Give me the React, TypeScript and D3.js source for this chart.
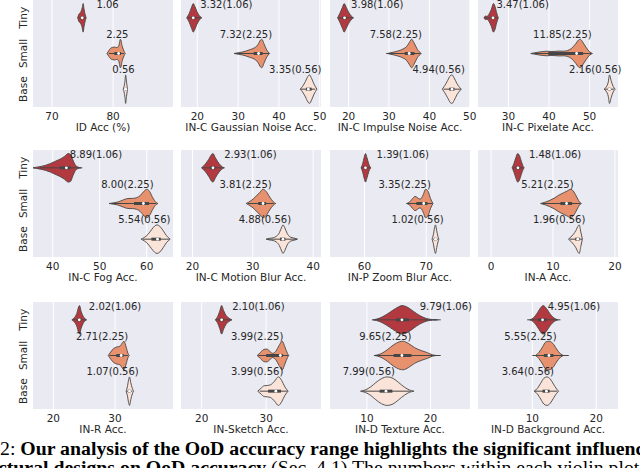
import React from "react";
import * as d3 from "d3";

// ---------------- data ----------------
const models = ["Tiny", "Small", "Base"];
const colors = ["#b2393f", "#e8916e", "#fae3d8"];

const metrics = [
  "ID Acc (%)",
  "IN-C Gaussian Noise Acc.",
  "IN-C Impulse Noise Acc.",
  "IN-C Pixelate Acc.",
  "IN-C Fog Acc.",
  "IN-C Motion Blur Acc.",
  "IN-P Zoom Blur Acc.",
  "IN-A Acc.",
  "IN-R Acc.",
  "IN-Sketch Acc.",
  "IN-D Texture Acc.",
  "IN-D Background Acc.",
];

const idRange = [1.06, 2.25, 0.56];
const oodRange: (number[] | null)[] = [
  null,
  [3.32, 7.32, 3.35],
  [3.98, 7.58, 4.94],
  [3.47, 11.85, 2.16],
  [8.89, 8.0, 5.54],
  [2.93, 3.81, 4.88],
  [1.39, 3.35, 1.02],
  [1.48, 5.21, 1.96],
  [2.02, 2.71, 1.07],
  [2.1, 3.99, 3.99],
  [9.79, 9.65, 7.99],
  [4.95, 5.55, 3.64],
];

const xTicks = [
  [70, 80],
  [20, 30, 40, 50],
  [20, 30, 40, 50],
  [30, 40, 50],
  [40, 50, 60],
  [20, 30, 40],
  [60, 70],
  [0, 10, 20],
  [20, 30],
  [20, 30],
  [10, 20],
  [10, 20],
];

const xLimits = [
  [66.9, 89.8],
  [16.0, 50.3],
  [15.4, 50.05],
  [22.5, 57.0],
  [35.8, 65.6],
  [18.1, 41.3],
  [54.4, 77.1],
  [-2.1, 20.5],
  [16.7, 39.4],
  [16.8, 38.5],
  [4.2, 26.2],
  [1.5, 23.4],
];

// label anchor (centre) in data units, per metric, per model
const labelX = [
  [79.1, 80.7, 81.7],
  [27.1, 31.9, 44.0],
  [27.1, 31.7, 42.3],
  [33.5, 43.3, 51.4],
  [49.2, 55.9, 59.5],
  [29.6, 28.8, 32.0],
  [66.2, 66.5, 68.6],
  [10.35, 9.1, 11.0],
  [30.0, 27.9, 29.6],
  [28.8, 28.6, 28.6],
  [22.4, 12.9, 10.3],
  [16.5, 9.7, 9.3],
];

// density profiles [value, relative density]
const densId = [
  [[74.2, 0], [74.4, 0.25], [74.7, 0.4], [74.95, 0.7], [75.1, 1], [75.25, 0.6], [75.45, 0.2], [75.6, 0]],
  [[79.0, 0], [79.3, 0.2], [79.7, 0.4], [80.2, 0.45], [80.6, 0.42], [80.9, 0.5], [81.2, 1], [81.5, 0.5], [81.8, 0.15], [82.0, 0]],
  [[81.65, 0], [81.8, 0.2], [81.95, 0.6], [82.05, 1], [82.2, 0.5], [82.35, 0]],
];
const densGauss = [
  [[17.4, 0], [18.0, 0.3], [18.6, 0.75], [19.0, 1], [19.4, 0.8], [19.9, 0.45], [20.5, 0.15], [21.1, 0]],
  [[29.0, 0], [30.0, 0.05], [31.0, 0.1], [32.0, 0.18], [33.0, 0.28], [34.0, 0.4], [34.8, 0.6], [35.5, 0.95], [35.8, 1], [36.3, 0.7], [37.0, 0.25], [37.7, 0]],
  [[45.2, 0], [45.8, 0.2], [46.5, 0.55], [47.1, 0.9], [47.5, 1], [48.0, 0.75], [48.6, 0.35], [49.3, 0]],
];
const densImpulse = [
  [[17.3, 0], [17.9, 0.35], [18.5, 0.75], [18.9, 1], [19.4, 0.75], [20.0, 0.4], [20.6, 0.15], [21.2, 0]],
  [[29.6, 0], [30.5, 0.06], [31.5, 0.12], [32.5, 0.2], [33.5, 0.32], [34.4, 0.5], [35.1, 0.8], [35.6, 1], [36.2, 0.75], [37.0, 0.3], [38.0, 0]],
  [[43.2, 0], [43.8, 0.25], [44.5, 0.6], [45.2, 0.95], [45.6, 1], [46.1, 0.8], [46.8, 0.4], [47.5, 0.12], [47.9, 0]],
];
const densPixelate = [
  [[24.0, 0], [24.3, 0.12], [24.7, 0.1], [25.2, 0.25], [25.8, 0.6], [26.3, 1], [26.7, 0.8], [27.1, 0.35], [27.5, 0]],
  [[35.5, 0], [36.5, 0.05], [37.5, 0.1], [38.5, 0.14], [39.5, 0.16], [40.5, 0.14], [41.5, 0.15], [42.5, 0.17], [43.5, 0.16], [44.5, 0.2], [45.5, 0.35], [46.5, 0.65], [47.3, 0.95], [47.7, 1], [48.3, 0.8], [49.2, 0.4], [50.0, 0.12], [50.7, 0]],
  [[53.6, 0], [54.1, 0.15], [54.6, 0.5], [54.9, 1], [55.3, 0.6], [55.8, 0.2], [56.3, 0]],
];
const densFog = [
  [[35.5, 0], [36.5, 0.04], [37.5, 0.1], [38.5, 0.18], [39.5, 0.3], [40.5, 0.45], [41.5, 0.6], [42.5, 0.8], [43.3, 1], [43.8, 0.95], [44.3, 0.55], [44.8, 0.2], [45.4, 0.05], [46.0, 0]],
  [[52.0, 0], [53.0, 0.05], [54.0, 0.12], [55.0, 0.25], [56.0, 0.35], [57.0, 0.36], [57.8, 0.4], [58.6, 0.55], [59.4, 0.85], [60.0, 1], [60.6, 0.85], [61.3, 0.4], [62.0, 0.08], [62.4, 0]],
  [[58.8, 0], [59.5, 0.12], [60.3, 0.35], [61.0, 0.65], [61.7, 0.92], [62.2, 1], [62.8, 0.9], [63.5, 0.6], [64.2, 0.25], [65.0, 0]],
];
const densMotion = [
  [[21.5, 0], [22.1, 0.25], [22.7, 0.6], [23.2, 0.95], [23.4, 1], [23.8, 0.7], [24.4, 0.3], [25.0, 0.05], [25.3, 0]],
  [[28.9, 0], [29.7, 0.2], [30.4, 0.45], [31.1, 0.75], [31.7, 1], [32.2, 0.85], [32.8, 0.45], [33.4, 0.12], [33.8, 0]],
  [[32.2, 0], [32.8, 0.06], [33.4, 0.1], [33.9, 0.2], [34.4, 0.45], [34.8, 0.85], [35.0, 1], [35.3, 0.8], [35.7, 0.4], [36.2, 0.15], [36.8, 0.08], [37.4, 0]],
];
const densZoom = [
  [[59.45, 0], [59.7, 0.3], [59.95, 0.75], [60.15, 1], [60.4, 0.7], [60.7, 0.25], [61.0, 0]],
  [[66.8, 0], [67.3, 0.1], [67.8, 0.35], [68.2, 0.5], [68.6, 0.4], [69.0, 0.3], [69.5, 0.6], [69.9, 1], [70.3, 0.85], [70.7, 0.35], [71.1, 0]],
  [[70.95, 0], [71.15, 0.3], [71.35, 0.8], [71.5, 1], [71.7, 0.6], [71.9, 0.2], [72.05, 0]],
];
const densA = [
  [[3.4, 0], [3.7, 0.3], [4.0, 0.7], [4.3, 1], [4.6, 0.85], [4.9, 0.45], [5.2, 0.1], [5.35, 0]],
  [[8.0, 0], [8.8, 0.1], [9.5, 0.22], [10.3, 0.4], [11.0, 0.6], [11.7, 0.75], [12.3, 0.88], [12.9, 1], [13.4, 0.8], [13.9, 0.4], [14.4, 0.05], [14.6, 0]],
  [[12.5, 0], [12.9, 0.15], [13.3, 0.35], [13.7, 0.6], [14.1, 0.95], [14.25, 1], [14.5, 0.5], [14.75, 0]],
];
const densR = [
  [[23.0, 0], [23.4, 0.15], [23.8, 0.45], [24.1, 0.9], [24.25, 1], [24.5, 0.6], [24.9, 0.2], [25.4, 0]],
  [[28.9, 0], [29.3, 0.25], [29.8, 0.5], [30.3, 0.6], [30.8, 0.65], [31.2, 0.9], [31.45, 1], [31.8, 0.6], [32.1, 0.15], [32.3, 0]],
  [[31.8, 0], [32.0, 0.3], [32.2, 0.8], [32.35, 1], [32.55, 0.6], [32.8, 0.2], [33.0, 0]],
];
const densSketch = [
  [[22.1, 0], [22.5, 0.25], [22.8, 0.6], [23.1, 1], [23.4, 0.65], [23.8, 0.3], [24.3, 0.1], [24.7, 0]],
  [[28.6, 0], [29.1, 0.2], [29.6, 0.42], [30.1, 0.45], [30.6, 0.28], [31.0, 0.15], [31.5, 0.3], [32.0, 0.7], [32.5, 1], [32.9, 0.6], [33.3, 0.15], [33.5, 0]],
  [[28.7, 0], [29.2, 0.2], [29.7, 0.38], [30.2, 0.4], [30.7, 0.45], [31.3, 0.7], [31.9, 1], [32.4, 0.75], [32.9, 0.3], [33.4, 0]],
];
const densTexture = [
  [[11.0, 0], [12.0, 0.12], [13.0, 0.35], [14.0, 0.65], [15.0, 0.92], [15.5, 1], [16.3, 0.9], [17.3, 0.6], [18.3, 0.3], [19.3, 0.1], [20.3, 0.02], [21.1, 0]],
  [[11.2, 0], [12.2, 0.12], [13.2, 0.4], [14.2, 0.75], [15.2, 0.97], [15.7, 1], [16.5, 0.85], [17.5, 0.55], [18.5, 0.35], [19.5, 0.2], [20.3, 0.05], [21.0, 0]],
  [[9.0, 0], [9.8, 0.1], [10.6, 0.3], [11.4, 0.6], [12.3, 0.88], [13.2, 1], [14.1, 0.9], [15.0, 0.6], [15.9, 0.28], [16.7, 0.08], [17.4, 0]],
];
const densBackground = [
  [[9.6, 0], [10.2, 0.15], [10.8, 0.5], [11.3, 0.85], [11.7, 1], [12.2, 0.8], [12.8, 0.4], [13.4, 0.12], [14.0, 0]],
  [[10.5, 0], [11.0, 0.2], [11.6, 0.6], [12.1, 0.95], [12.6, 1], [13.2, 0.85], [13.8, 0.45], [14.4, 0.12], [14.9, 0]],
  [[10.3, 0], [10.8, 0.2], [11.3, 0.55], [11.8, 0.9], [12.3, 1], [12.8, 0.85], [13.3, 0.5], [13.8, 0.15], [14.1, 0]],
];
const densities = [
  densId, densGauss, densImpulse, densPixelate,
  densFog, densMotion, densZoom, densA,
  densR, densSketch, densTexture, densBackground,
];

// box stats [whisker lo, q1, median, q3, whisker hi]
const boxes = [
  [[74.4, 74.7, 74.95, 75.15, 75.5], [79.3, 80.2, 80.9, 81.3, 81.8], [81.8, 81.95, 82.05, 82.15, 82.25]],
  [[17.5, 18.6, 19.0, 19.5, 20.9], [29.5, 33.8, 35.0, 36.0, 37.6], [45.3, 46.6, 47.2, 48.0, 48.9]],
  [[17.3, 18.5, 19.0, 19.5, 21.2], [29.3, 33.9, 35.0, 36.3, 37.8], [43.5, 44.9, 45.6, 46.2, 47.8]],
  [[24.0, 25.7, 26.2, 26.6, 27.3], [36.2, 39.8, 46.8, 48.4, 50.4], [53.6, 54.6, 54.9, 55.2, 56.0]],
  [[37.3, 41.5, 42.9, 43.8, 46.3], [52.5, 57.3, 59.3, 60.5, 62.0], [59.2, 61.0, 62.3, 63.0, 64.8]],
  [[21.6, 22.9, 23.4, 23.8, 25.0], [29.2, 30.9, 31.7, 32.2, 33.5], [32.4, 34.5, 35.0, 35.4, 37.3]],
  [[59.5, 59.95, 60.15, 60.4, 60.9], [66.9, 68.4, 69.6, 70.2, 71.0], [71.1, 71.3, 71.5, 71.65, 71.9]],
  [[3.6, 4.0, 4.35, 4.7, 5.2], [8.3, 11.2, 12.2, 13.1, 14.4], [12.7, 13.6, 14.0, 14.3, 14.7]],
  [[23.2, 23.9, 24.2, 24.5, 25.3], [29.1, 30.2, 31.0, 31.4, 32.1], [31.9, 32.15, 32.35, 32.5, 32.8]],
  [[22.2, 22.8, 23.1, 23.4, 24.6], [28.8, 30.0, 32.2, 32.6, 33.4], [29.0, 30.3, 31.5, 32.3, 33.3]],
  [[10.8, 14.6, 15.5, 16.6, 21.6], [11.1, 14.2, 15.5, 17.0, 21.6], [9.4, 12.0, 13.0, 14.0, 16.9]],
  [[9.2, 10.9, 11.6, 12.2, 14.4], [10.0, 11.8, 12.6, 13.3, 15.7], [10.3, 11.6, 12.2, 12.7, 13.9]],
];

// ---------------- layout ----------------
const colX = [33, 181, 330, 478];
const rowY = [0, 150, 302];
const panelW = 140;
const panelH = 107;
const textColor = "#262626";
const edge = "#464646";
const FONT = "DejaVu Sans, sans-serif";
const SERIF = "Liberation Serif, Times New Roman, serif";

function Panel({ idx }: { idx: number }) {
  const col = idx % 4;
  const row = Math.floor(idx / 4);
  const x0 = colX[col];
  const y0 = rowY[row];
  const x = d3.scaleLinear().domain(xLimits[idx]).range([0, panelW]);
  const y = d3.scaleBand().domain(models).range([0, panelH]);
  const bw = y.bandwidth();
  const hw = bw * 0.4;
  const clipId = `clip-${idx}`;

  return (
    <g transform={`translate(${x0},${y0})`}>
      <defs>
        <clipPath id={clipId}>
          <rect x={0} y={0} width={panelW} height={panelH} />
        </clipPath>
      </defs>
      <rect x={0} y={0} width={panelW} height={panelH} fill="#eaeaf2" />
      {xTicks[idx].map((t) => (
        <line key={t} x1={x(t)} x2={x(t)} y1={0} y2={panelH} stroke="#ffffff" strokeWidth={1} />
      ))}
      <g clipPath={`url(#${clipId})`}>
        {models.map((m, i) => {
          const cy = (y(m) as number) + bw / 2;
          const area = d3
            .area<number[]>()
            .x((d) => x(d[0]))
            .y0((d) => cy - d[1] * hw)
            .y1((d) => cy + d[1] * hw)
            .curve(d3.curveMonotoneX);
          const b = boxes[idx][i];
          return (
            <g key={m}>
              <path d={area(densities[idx][i] as number[][]) || ""} fill={colors[i]} stroke={edge} strokeWidth={0.9} />
              <line x1={x(b[0])} x2={x(b[4])} y1={cy} y2={cy} stroke={edge} strokeWidth={1} />
              <line x1={x(b[1])} x2={x(b[3])} y1={cy} y2={cy} stroke={edge} strokeWidth={3} />
              <circle cx={x(b[2])} cy={cy} r={1.4} fill="#ffffff" />
            </g>
          );
        })}
      </g>
      {models.map((m, i) => {
        const cy = (y(m) as number) + bw / 2;
        const off = i === 0 ? -0.37 : -0.54;
        const ood = oodRange[idx];
        const txt = ood ? `${ood[i].toFixed(2)}(${idRange[i].toFixed(2)})` : idRange[i].toFixed(2);
        return (
          <text
            key={m}
            x={x(labelX[idx][i])}
            y={cy + off * bw}
            dy="0.35em"
            textAnchor="middle"
            fontSize={10}
            fontFamily={FONT}
            fill={textColor}
          >
            {txt}
          </text>
        );
      })}
      {xTicks[idx].map((t) => (
        <text
          key={t}
          x={x(t)}
          y={panelH + 9}
          dy="0.35em"
          textAnchor="middle"
          fontSize={10.5}
          fontFamily={FONT}
          fill={textColor}
        >
          {t}
        </text>
      ))}
      <text
        x={panelW / 2}
        y={panelH + 20.5}
        dy="0.35em"
        textAnchor="middle"
        fontSize={10.5}
        fontFamily={FONT}
        fill={textColor}
      >
        {metrics[idx]}
      </text>
      {col === 0 &&
        models.map((m) => {
          const cy = (y(m) as number) + bw / 2;
          return (
            <text
              key={m}
              transform={`translate(-10,${cy}) rotate(-90)`}
              dy="0.35em"
              textAnchor="middle"
              fontSize={10.5}
              fontFamily={FONT}
              fill={textColor}
            >
              {m}
            </text>
          );
        })}
    </g>
  );
}

export default function App() {
  return (
    <svg
      width={640}
      height={468}
      style={{ position: "absolute", left: 0, top: 0, background: "#ffffff" }}
    >
      <rect x={0} y={0} width={640} height={468} fill="#ffffff" />
      {metrics.map((_, i) => (
        <Panel key={i} idx={i} />
      ))}
      <text x={0} y={455} fontSize={19.8} fontFamily={SERIF} fill="#000">
        <tspan>2: </tspan>
        <tspan fontWeight="bold">Our analysis of the OoD accuracy range highlights the significant influence</tspan>
      </text>
      <text x={-2} y={474} fontSize={19.8} fontFamily={SERIF} fill="#000">
        <tspan fontWeight="bold">ctural designs on OoD accuracy</tspan>
        <tspan> (Sec. 4.1) The numbers within each violin plot</tspan>
      </text>
    </svg>
  );
}
